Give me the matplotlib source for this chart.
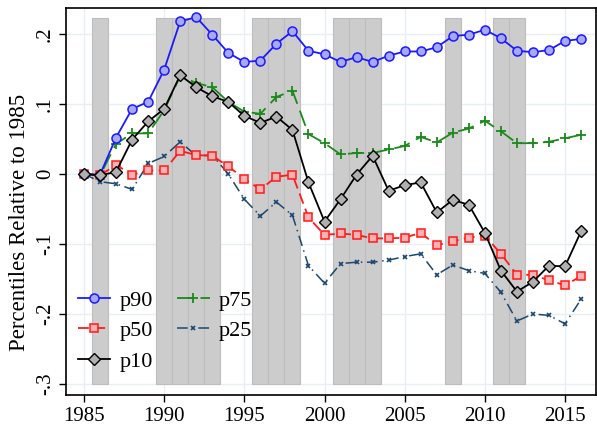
import matplotlib
matplotlib.use("Agg")
import matplotlib.pyplot as plt
import numpy as np

years = list(range(1985, 2017))
p90 = [0.000, -0.001, 0.052, 0.093, 0.103, 0.149, 0.218, 0.224, 0.199, 0.173,
       0.160, 0.162, 0.186, 0.204, 0.176, 0.171, 0.160, 0.167, 0.160, 0.169,
       0.175, 0.175, 0.181, 0.197, 0.199, 0.206, 0.194, 0.176, 0.174, 0.177,
       0.190, 0.193]
p75 = [0.000, -0.002, 0.043, 0.058, 0.058, 0.091, 0.140, 0.130, 0.124, 0.103,
       0.089, 0.086, 0.110, 0.119, 0.057, 0.044, 0.028, 0.030, 0.030, 0.035,
       0.040, 0.053, 0.045, 0.059, 0.065, 0.076, 0.061, 0.044, 0.044, 0.046,
       0.051, 0.056]
p50 = [0.000, -0.002, 0.013, -0.001, 0.005, 0.005, 0.033, 0.027, 0.026, 0.011,
       -0.007, -0.022, -0.004, -0.001, -0.062, -0.087, -0.085, -0.087, -0.092, -0.092,
       -0.091, -0.084, -0.102, -0.096, -0.091, -0.088, -0.114, -0.144, -0.144, -0.152,
       -0.159, -0.146]
p25 = [0.000, -0.011, -0.014, -0.022, 0.015, 0.025, 0.046, 0.026, 0.027, 0.000,
       -0.036, -0.060, -0.040, -0.059, -0.131, -0.156, -0.128, -0.126, -0.126, -0.123,
       -0.118, -0.114, -0.144, -0.130, -0.138, -0.142, -0.169, -0.210, -0.200, -0.202,
       -0.214, -0.179]
p10 = [0.000, -0.002, 0.003, 0.049, 0.075, 0.093, 0.141, 0.124, 0.111, 0.103,
       0.083, 0.073, 0.082, 0.063, -0.012, -0.068, -0.036, -0.001, 0.026, -0.024,
       -0.016, -0.012, -0.055, -0.037, -0.044, -0.084, -0.138, -0.168, -0.154, -0.131,
       -0.132, -0.082]
shade_years = [1986, 1990, 1991, 1992, 1993, 1996, 1997, 1998, 2001, 2002, 2003,
               2008, 2011, 2012]
shade_top = 0.223
shade_bottom = -0.30
yticks = [-0.3, -0.2, -0.1, 0.0, 0.1, 0.2]
ytick_labels = ["-.3", "-.2", "-.1", "0", ".1", ".2"]
xticks = [1985, 1990, 1995, 2000, 2005, 2010, 2015]

plt.rcParams['font.family'] = ['Liberation Serif', 'DejaVu Serif']

fig = plt.figure(figsize=(5.97, 4.26), dpi=100)
ax = fig.add_axes([0.1106, 0.0728, 0.8874, 0.9084])

ax.bar(shade_years, [shade_top - shade_bottom] * len(shade_years), width=1.0,
       bottom=shade_bottom, color="#cccccc", edgecolor="#bdbdbd", linewidth=0.8, zorder=1)

ax.plot(years, p90, color="#1a1aff", lw=1.3, marker="o", ms=6.5,
        mfc="#a8a8ff", mec="#1a1aff", mew=1.1, label="p90", zorder=5)
ax.plot(years, p50, color="#ff1a1a", lw=1.3, ls=(0, (6, 3)), marker="s", ms=6.3,
        mfc="#ffb0b0", mec="#ff1a1a", mew=1.1, label="p50", zorder=4)
ax.plot(years, p10, color="black", lw=1.3, marker="D", ms=6.3,
        mfc="#b0b0b0", mec="black", mew=1.0, label="p10", zorder=6)
ax.plot(years, p75, color="#1a8a1a", lw=1.3, ls=(0, (9, 4)), marker="+", ms=7.5,
        mec="#1a8a1a", mew=1.3, label="p75", zorder=4)
ax.plot(years, p25, color="#1a476f", lw=1.1, ls=(0, (7, 3, 1, 3)), marker="x", ms=3.5,
        mec="#1a476f", mew=1.2, label="p25", zorder=3)

ax.set_xlim(1983.88, 2016.92)
ax.set_ylim(-0.3157, 0.2371)
ax.set_xticks(xticks)
ax.set_yticks(yticks)
ax.set_yticklabels(ytick_labels, rotation=90, va="center")
ax.tick_params(axis="both", direction="out", length=5, width=1, labelsize=15)
ax.tick_params(axis="y", pad=3)
ax.grid(True, color="#e6eff1", lw=1.0, zorder=0)
ax.set_axisbelow(True)
for s in ax.spines.values():
    s.set_linewidth(1.2)
ax.set_ylabel("Percentiles Relative to 1985", fontsize=16.5)
ax.yaxis.set_label_coords(-0.068, 0.447)

ax.legend(ncol=2, loc="upper left", bbox_to_anchor=(78 / 597, 1 - 290 / 426),
          bbox_transform=fig.transFigure, frameon=False, borderpad=0.0,
          fontsize=16, handlelength=1.45, handletextpad=0.42, columnspacing=1.1,
          labelspacing=0.45, borderaxespad=0.0)

fig.savefig("out.png", dpi=100)
